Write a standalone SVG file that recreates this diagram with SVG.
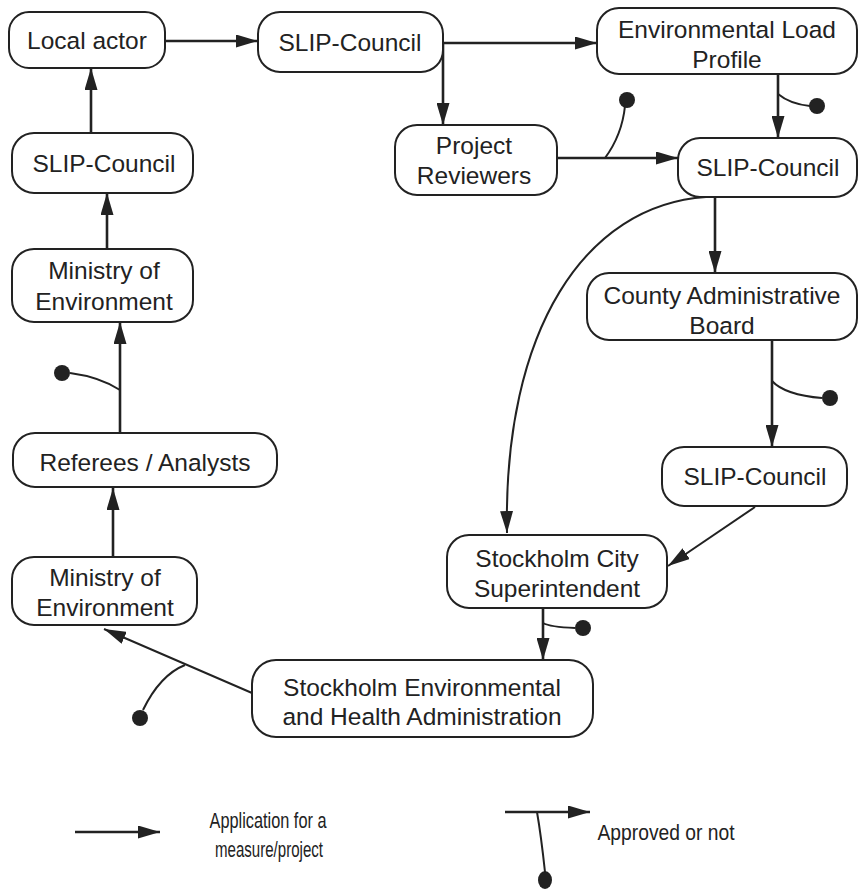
<svg xmlns="http://www.w3.org/2000/svg" width="860" height="891" viewBox="0 0 860 891">
<style>
.box{fill:#fff;stroke:#222;stroke-width:2}
.t{font-family:"Liberation Sans",Arial,sans-serif;font-size:24.5px;fill:#222;text-anchor:middle}
.lg{font-family:"Liberation Sans",Arial,sans-serif;font-size:22px;fill:#222;text-anchor:middle}
.c{fill:none;stroke:#222;stroke-width:2.6}
.tk{fill:none;stroke:#222;stroke-width:2}
.dot{fill:#222}
</style>
<defs>
<marker id="arr" viewBox="0 0 22 13" refX="22" refY="6.5" markerWidth="22" markerHeight="13" markerUnits="userSpaceOnUse" orient="auto">
<path d="M0,0 L22,6.5 L0,13 z" fill="#222"/>
</marker>
</defs>
<rect width="860" height="891" fill="#fff"/>
<g id="connectors">
<path class="c" d="M165,41 L258,41" marker-end="url(#arr)"/>
<path class="c" d="M443,43 L597,43" marker-end="url(#arr)"/>
<path class="c" d="M443,43 L443,125" marker-end="url(#arr)"/>
<path class="c" d="M778,74 L778,138" marker-end="url(#arr)"/>
<path class="tk" d="M778,94 Q790,104 810,106"/><circle class="dot" cx="817" cy="106" r="8"/>
<path class="c" d="M557,158 L678,158" marker-end="url(#arr)"/>
<path class="tk" d="M605,158 Q622,135 625,106"/><circle class="dot" cx="627" cy="100" r="8"/>
<path class="c" d="M715,197 L715,273" marker-end="url(#arr)"/>
<path class="tk" d="M706,197 C585,205 503,330 507,533" marker-end="url(#arr)"/>
<path class="c" d="M772,340 L772,447" marker-end="url(#arr)"/>
<path class="tk" d="M772,381 Q785,395 822,398"/><circle class="dot" cx="830" cy="398" r="8"/>
<path class="tk" d="M755,507 L668,566" marker-end="url(#arr)"/>
<path class="c" d="M543,608 L543,660" marker-end="url(#arr)"/>
<path class="tk" d="M543,623 Q550,627 575,628"/><circle class="dot" cx="583" cy="628" r="8"/>
<path class="tk" d="M252,693 L104,629" marker-end="url(#arr)"/>
<path class="tk" d="M185,665 Q160,675 143,710"/><circle class="dot" cx="140" cy="718" r="8"/>
<path class="c" d="M113,557 L113,488" marker-end="url(#arr)"/>
<path class="c" d="M120,433 L120,322" marker-end="url(#arr)"/>
<path class="tk" d="M120,390 Q100,377 70,373"/><circle class="dot" cx="62" cy="373" r="8"/>
<path class="c" d="M107,249 L107,193" marker-end="url(#arr)"/>
<path class="c" d="M91,133 L91,68" marker-end="url(#arr)"/>
</g>
<g id="n_local"><rect class="box" x="9" y="12" width="156" height="56" rx="20"/><text class="t" x="87" y="49">Local actor</text></g>
<g id="n_slip1"><rect class="box" x="258" y="12" width="185" height="60" rx="22"/><text class="t" x="350" y="51">SLIP-Council</text></g>
<g id="n_elp"><rect class="box" x="597" y="8" width="260" height="66" rx="22"/><text class="t" x="727" y="38">Environmental Load</text><text class="t" x="727" y="68">Profile</text></g>
<g id="n_pr"><rect class="box" x="395" y="125" width="162" height="70" rx="22"/><text class="t" x="474" y="154">Project</text><text class="t" x="474" y="184">Reviewers</text></g>
<g id="n_slip2"><rect class="box" x="678" y="138" width="179" height="59" rx="22"/><text class="t" x="768" y="176">SLIP-Council</text></g>
<g id="n_cab"><rect class="box" x="587" y="273" width="270" height="67" rx="22"/><text class="t" x="722" y="304">County Administrative</text><text class="t" x="722" y="334">Board</text></g>
<g id="n_slip3"><rect class="box" x="662" y="447" width="185" height="59" rx="22"/><text class="t" x="755" y="485">SLIP-Council</text></g>
<g id="n_scs"><rect class="box" x="447" y="535" width="220" height="73" rx="22"/><text class="t" x="557" y="567">Stockholm City</text><text class="t" x="557" y="597">Superintendent</text></g>
<g id="n_seha"><rect class="box" x="252" y="660" width="341" height="77" rx="24"/><text class="t" x="422" y="696">Stockholm Environmental</text><text class="t" x="422" y="725">and Health Administration</text></g>
<g id="n_moe2"><rect class="box" x="12" y="557" width="185" height="68" rx="22"/><text class="t" x="105" y="586">Ministry of</text><text class="t" x="105" y="616">Environment</text></g>
<g id="n_ref"><rect class="box" x="13" y="433" width="264" height="54" rx="22"/><text class="t" x="145" y="471">Referees / Analysts</text></g>
<g id="n_moe1"><rect class="box" x="12" y="249" width="181" height="73" rx="22"/><text class="t" x="104" y="279">Ministry of</text><text class="t" x="104" y="310">Environment</text></g>
<g id="n_slip0"><rect class="box" x="12" y="133" width="181" height="60" rx="22"/><text class="t" x="104" y="172">SLIP-Council</text></g>
<g id="legend">
<path class="c" d="M75,832 L160,832" marker-end="url(#arr)"/>
<text class="lg" x="268" y="828" textLength="117" lengthAdjust="spacingAndGlyphs">Application for a</text>
<text class="lg" x="269" y="857" textLength="108" lengthAdjust="spacingAndGlyphs">measure/project</text>
<path class="c" d="M505,812 L590,812" marker-end="url(#arr)"/>
<path class="tk" d="M537,812 Q541,835 545,872"/><ellipse class="dot" cx="545" cy="880" rx="7" ry="9"/>
<text class="lg" x="666" y="840" textLength="137" lengthAdjust="spacingAndGlyphs">Approved or not</text>
</g>
</svg>
